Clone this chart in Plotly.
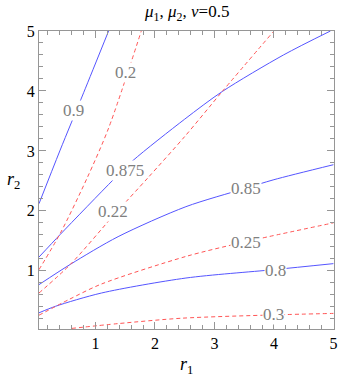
import plotly.graph_objects as go

# Contours of mu1 (blue, solid)
mu1_levels = ["0.9", "0.875", "0.85", "0.8"]
mu1_09_x = [0.05, 0.40, 0.80, 1.22]
mu1_09_y = [2.12, 3.00, 3.97, 5.0]
mu1_0875_x = [0.05, 0.41, 1.30, 1.63, 2.50, 3.13, 4.16, 4.95]
mu1_0875_y = [1.23, 1.61, 2.52, 2.84, 3.53, 3.99, 4.60, 5.0]
mu1_085_x = [0.05, 0.58, 1.38, 2.52, 3.50, 4.00, 5.0]
mu1_085_y = [0.77, 1.11, 1.57, 2.07, 2.37, 2.52, 2.77]
mu1_08_x = [0.05, 0.33, 1.10, 2.52, 4.00, 5.0]
mu1_08_y = [0.30, 0.41, 0.63, 0.88, 1.02, 1.12]

# Contours of mu2 (red, dashed)
mu2_levels = ["0.2", "0.22", "0.25", "0.3"]
mu2_02_x = [0.05, 0.41, 0.86, 1.22, 1.77]
mu2_02_y = [1.02, 1.63, 2.55, 3.38, 5.0]
mu2_022_x = [0.05, 0.58, 1.30, 1.88, 2.50, 3.13, 4.0]
mu2_022_y = [0.63, 1.11, 1.92, 2.55, 3.24, 3.99, 5.0]
mu2_025_x = [0.05, 0.55, 1.10, 2.52, 3.50, 5.0]
mu2_025_y = [0.26, 0.52, 0.78, 1.24, 1.48, 1.80]
mu2_03_x = [0.60, 1.38, 2.45, 4.00, 5.0]
mu2_03_y = [0.04, 0.12, 0.21, 0.265, 0.29]

# Contour label positions
label_text = ["0.9", "0.2", "0.875", "0.22", "0.85", "0.25", "0.8", "0.3"]
label_x = [0.63, 1.50, 1.50, 1.30, 3.53, 3.53, 4.03, 4.00]
label_y = [3.68, 4.30, 2.68, 1.99, 2.37, 1.48, 1.00, 0.265]

x_ticks = [1, 2, 3, 4, 5]
y_ticks = [1, 2, 3, 4, 5]

BLUE = "rgb(85,85,255)"
RED = "rgb(255,85,85)"
SERIF = "Liberation Serif"

fig = go.Figure()
for xs, ys in [(mu1_09_x, mu1_09_y), (mu1_0875_x, mu1_0875_y),
               (mu1_085_x, mu1_085_y), (mu1_08_x, mu1_08_y)]:
    fig.add_trace(go.Scatter(x=xs, y=ys, mode="lines",
                             line=dict(color=BLUE, width=1, shape="spline", smoothing=0.8),
                             hoverinfo="skip", showlegend=False))
for xs, ys in [(mu2_02_x, mu2_02_y), (mu2_022_x, mu2_022_y),
               (mu2_025_x, mu2_025_y), (mu2_03_x, mu2_03_y)]:
    fig.add_trace(go.Scatter(x=xs, y=ys, mode="lines",
                             line=dict(color=RED, width=1, shape="spline", smoothing=0.8,
                                       dash="4px,3px"),
                             hoverinfo="skip", showlegend=False))

for t, lx, ly in zip(label_text, label_x, label_y):
    fig.add_annotation(x=lx, y=ly, text=t, showarrow=False,
                       xanchor="center", yanchor="middle",
                       font=dict(family=SERIF, size=17, color="rgb(128,128,128)"),
                       bgcolor="white", borderpad=0, xref="x", yref="y")

axis_common = dict(
    showgrid=False, zeroline=False, showline=True, linecolor="rgb(150,150,150)", linewidth=1,
    mirror="ticks", ticks="inside", ticklen=7, tickcolor="rgb(150,150,150)", tickwidth=1,
    tickfont=dict(family=SERIF, size=16, color="black"),
    minor=dict(dtick=0.2, tick0=0, ticks="inside", ticklen=4, tickcolor="rgb(150,150,150)",
               showgrid=False),
)
fig.update_xaxes(range=[0.05, 5.01], tickvals=x_ticks, ticktext=[str(v) for v in x_ticks],
                 **axis_common)
fig.update_yaxes(range=[0.03, 5.0], tickvals=y_ticks, ticktext=[str(v) for v in y_ticks],
                 **axis_common)

fig.add_annotation(text="<i>μ</i><sub>1</sub>, <i>μ</i><sub>2</sub>, <i>ν</i>=0.5",
                   xref="paper", yref="paper", x=0.5, y=1.0, yshift=18, showarrow=False,
                   xanchor="center", yanchor="middle",
                   font=dict(family=SERIF, size=17, color="black"))
fig.add_annotation(text="<i>r</i><sub>1</sub>", xref="paper", yref="paper", x=0.5, y=0,
                   yshift=-36, showarrow=False, xanchor="center", yanchor="middle",
                   font=dict(family=SERIF, size=18, color="black"))
fig.add_annotation(text="<i>r</i><sub>2</sub>", xref="paper", yref="paper", x=0, y=0.5,
                   xshift=-26, showarrow=False, xanchor="center", yanchor="middle",
                   font=dict(family=SERIF, size=18, color="black"))

fig.update_layout(width=343, height=379, margin=dict(l=39, r=6, t=31, b=50),
                  plot_bgcolor="white", paper_bgcolor="white",
                  font=dict(family=SERIF))
fig.write_html("out.html", config={"displayModeBar": False},
               post_script="document.body.style.margin='0';document.body.style.padding='0';")
